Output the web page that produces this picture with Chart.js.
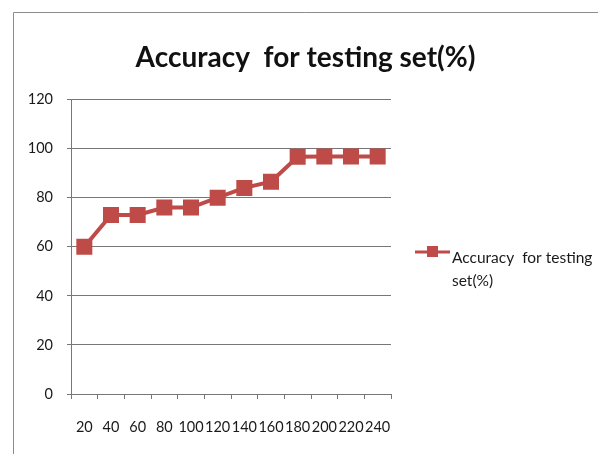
<!DOCTYPE html>
<html>
<head>
<meta charset="utf-8">
<script src="https://cdn.jsdelivr.net/npm/chart.js@4.4.1/dist/chart.umd.min.js"></script>
<style>
  html, body { margin: 0; padding: 0; background: #fff; overflow: hidden; }
  canvas { display: block; }
</style>
</head>
<body>
<canvas id="chartCanvas" width="598" height="454"></canvas>
<script>
const categories = ['20', '40', '60', '80', '100', '120', '140', '160', '180', '200', '220', '240'];
const accuracy = [60, 73, 73, 76, 76, 80, 84, 86.5, 96.7, 96.8, 96.8, 96.8];
const seriesName = 'Accuracy  for testing set(%)';
const legendLines = ['Accuracy  for testing', 'set(%)'];
const red = '#be4b48';

// outer chart frame (only left and top edges are visible in the picture)
const frame = {
  id: 'frame',
  beforeDraw(chart) {
    const ctx = chart.ctx;
    ctx.save();
    ctx.strokeStyle = '#8c8c8c';
    ctx.lineWidth = 1;
    ctx.beginPath();
    ctx.moveTo(13.5, chart.height);
    ctx.lineTo(13.5, 12.5);
    ctx.lineTo(chart.width, 12.5);
    ctx.stroke();
    ctx.restore();
  }
};

// simple Excel-like legend drawn in the reserved right area
const sideLegend = {
  id: 'sideLegend',
  afterDraw(chart) {
    const ctx = chart.ctx;
    const ds = chart.data.datasets[0];
    const x0 = 415, y0 = 252;
    ctx.save();
    ctx.strokeStyle = ds.borderColor;
    ctx.lineWidth = 3;
    ctx.beginPath();
    ctx.moveTo(x0, y0);
    ctx.lineTo(x0 + 35, y0);
    ctx.stroke();
    ctx.fillStyle = ds.backgroundColor;
    ctx.fillRect(x0 + 12, y0 - 6, 11, 11);
    ctx.fillStyle = '#1a1a1a';
    ctx.font = '15.5px Lato';
    ctx.textBaseline = 'middle';
    legendLines.forEach((t, i) => ctx.fillText(t, x0 + 37, y0 + 6 + i * 23));
    ctx.restore();
  }
};

const ctx = document.getElementById('chartCanvas').getContext('2d');
new Chart(ctx, {
  type: 'line',
  data: {
    labels: categories,
    datasets: [{
      label: seriesName,
      data: accuracy,
      borderColor: red,
      backgroundColor: red,
      borderWidth: 4,
      pointStyle: 'rect',
      pointRadius: 8.5,
      pointHoverRadius: 8.5,
      pointBackgroundColor: red,
      pointBorderColor: red,
      tension: 0
    }]
  },
  options: {
    responsive: false,
    animation: false,
    layout: { padding: { left: 13, top: 12, right: 0, bottom: 0 } },
    plugins: {
      legend: { display: false },
      tooltip: { enabled: false },
      title: {
        display: true,
        text: 'Accuracy  for testing set(%)',
        color: '#111',
        font: { family: 'Lato', size: 28, weight: 'bold', lineHeight: 1.2 },
        padding: { top: 29, bottom: 25 }
      }
    },
    scales: {
      x: {
        offset: true,
        grid: { display: true, offset: true, drawOnChartArea: false, color: '#777', tickLength: 5 },
        border: { color: '#777' },
        ticks: { color: '#1a1a1a', font: { family: 'Lato', size: 14.5 }, padding: 20, maxRotation: 0, autoSkip: false },
        afterFit(scale) { scale.height = 60; }
      },
      y: {
        min: 0,
        max: 120,
        ticks: { stepSize: 20, color: '#1a1a1a', font: { family: 'Lato', size: 14.5 }, padding: 14 },
        grid: { color: '#777', tickLength: 4 },
        border: { color: '#777' },
        afterFit(scale) { scale.width = 58; }
      },
      side: {
        type: 'linear',
        position: 'right',
        display: true,
        grid: { display: false },
        border: { display: false },
        ticks: { display: false },
        afterFit(scale) { scale.width = 207; }
      }
    }
  },
  plugins: [frame, sideLegend]
});
</script>
</body>
</html>
